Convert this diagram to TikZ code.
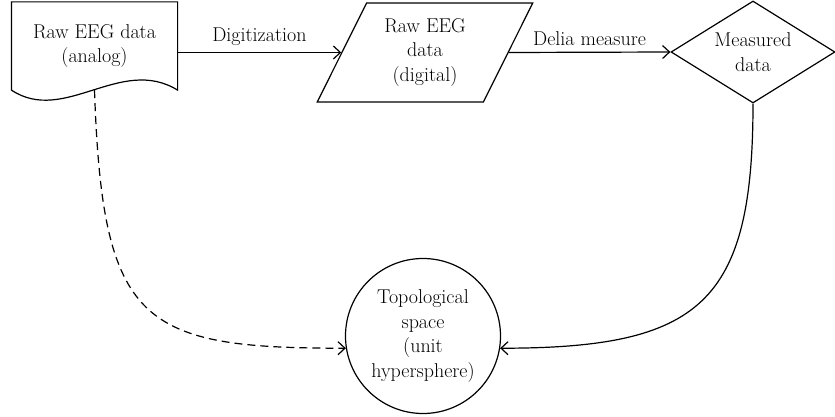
\documentclass[tikz,border=0pt]{standalone}
\usetikzlibrary{shapes.geometric,arrows.meta}
\begin{document}
\begin{tikzpicture}[x=1pt,y=-1pt,line width=1.2pt,
  every node/.style={font=\fontsize{20}{24.5}\selectfont, align=center},
  arr/.style={-{Straight Barb[length=7pt,width=13pt]}},
  dashline/.style={dash pattern=on 8pt off 5pt},
  lbl/.style={inner sep=2pt, above=4pt}]
\useasboundingbox (0,0) rectangle (835,417);
% document shape
\node[minimum width=165pt, minimum height=87pt, inner sep=0pt] (doc) at (94.5,46) {Raw EEG data\\(analog)};
\draw (doc.south west) -- (doc.north west) -- (doc.north east) -- (doc.south east)
  .. controls +(-57,-35) and +(53,35) .. (doc.south west) -- cycle;
% parallelogram
\node[draw, trapezium, trapezium left angle=63.2, trapezium right angle=116.8,
  trapezium stretches=true, minimum width=216pt, minimum height=99pt, inner sep=0pt]
  (dig) at (425,52.5) {Raw EEG\\data\\(digital)};
% diamond
\node[draw, diamond, aspect=1.6, minimum width=164pt, minimum height=102pt, inner sep=0pt]
  (meas) at (753,52) {Measured\\data};
% circle
\node[draw, circle, minimum size=155pt, inner sep=0pt] (topo) at (423,336)
  {Topological\\space\\(unit\\hypersphere)};
% connectors
\draw[arr] (dig.west -| doc.east) -- node[lbl] {Digitization} (dig.west);
\draw[arr] (dig.east) -- node[lbl] {Delia measure} (meas.west);
\draw[arr, dashline] (doc.south) .. controls +(8,235) and +(-205,0) .. (topo.189);
\draw[arr] (meas.south) .. controls +(0,200) and +(200,0) .. (topo.-9);
\end{tikzpicture}
\end{document}
